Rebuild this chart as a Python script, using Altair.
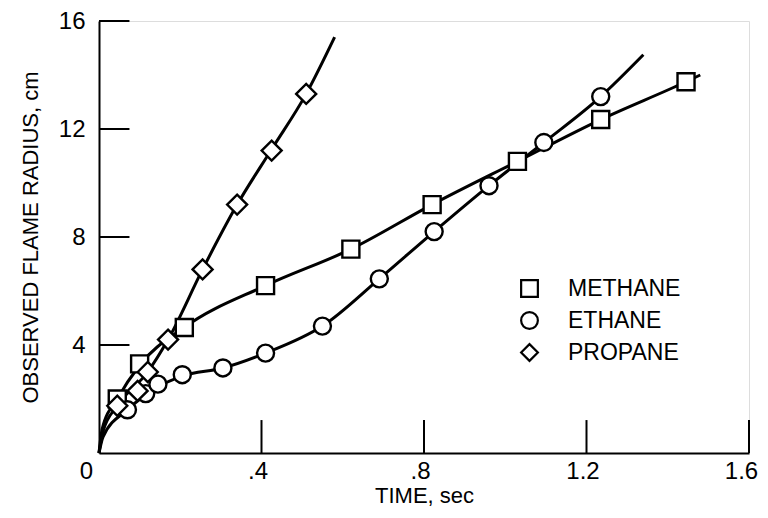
import altair as alt
import pandas as pd

# ---- data ----
series_names = ["METHANE", "ETHANE", "PROPANE"]

methane_t = [0.045, 0.10, 0.21, 0.41, 0.62, 0.82, 1.03, 1.235, 1.445]
methane_r = [2.0, 3.3, 4.65, 6.2, 7.55, 9.2, 10.8, 12.35, 13.75]

ethane_t = [0.07, 0.115, 0.145, 0.205, 0.305, 0.41, 0.55, 0.69, 0.825, 0.96, 1.095, 1.235]
ethane_r = [1.6, 2.2, 2.55, 2.9, 3.15, 3.7, 4.7, 6.45, 8.2, 9.9, 11.5, 13.2]

propane_t = [0.045, 0.095, 0.12, 0.17, 0.255, 0.34, 0.425, 0.51]
propane_r = [1.75, 2.3, 3.0, 4.2, 6.8, 9.2, 11.2, 13.3]

# faired curves drawn through the data
methane_curve_t = [0.0, 0.008, 0.045, 0.10, 0.21, 0.41, 0.62, 0.82, 1.03, 1.235, 1.445, 1.48]
methane_curve_r = [0.0, 0.9, 2.0, 3.25, 4.65, 6.2, 7.55, 9.2, 10.8, 12.35, 13.75, 14.0]

ethane_curve_t = [0.0, 0.01, 0.07, 0.145, 0.205, 0.305, 0.41, 0.55, 0.69, 0.825, 0.96, 1.095, 1.235, 1.34]
ethane_curve_r = [0.0, 0.6, 1.6, 2.45, 2.85, 3.15, 3.7, 4.7, 6.45, 8.2, 9.9, 11.5, 13.2, 14.75]

propane_curve_t = [0.0, 0.01, 0.045, 0.12, 0.17, 0.255, 0.34, 0.425, 0.51, 0.58]
propane_curve_r = [0.0, 0.8, 1.75, 3.0, 4.2, 6.8, 9.2, 11.25, 13.3, 15.4]

x_ticks = [0.4, 0.8, 1.2, 1.6]
y_ticks = [4, 8, 12, 16]
x_tick_labels = ["0", ".4", ".8", "1.2", "1.6"]

FONT = "Liberation Sans, Arial, sans-serif"

# ---- tables ----
pts = pd.concat([
    pd.DataFrame({"t": methane_t, "r": methane_r, "gas": "METHANE"}),
    pd.DataFrame({"t": ethane_t, "r": ethane_r, "gas": "ETHANE"}),
    pd.DataFrame({"t": propane_t, "r": propane_r, "gas": "PROPANE"}),
])
curves = pd.concat([
    pd.DataFrame({"t": methane_curve_t, "r": methane_curve_r, "gas": "METHANE", "i": range(len(methane_curve_t))}),
    pd.DataFrame({"t": ethane_curve_t, "r": ethane_curve_r, "gas": "ETHANE", "i": range(len(ethane_curve_t))}),
    pd.DataFrame({"t": propane_curve_t, "r": propane_curve_r, "gas": "PROPANE", "i": range(len(propane_curve_t))}),
])
xt = pd.DataFrame({"t": x_ticks, "r0": 0.0, "r1": 1.22})
yt = pd.DataFrame({"r": y_ticks, "t0": 0.0, "t1": 0.075})

x_values = [0] + x_ticks
label_map = "{" + ", ".join(f"'{v}': '{l}'" for v, l in zip(x_values, x_tick_labels)) + "}"
label_expr = f"{label_map}[toString(datum.value)]"

xscale = alt.Scale(domain=[0, 1.6], nice=False)
yscale = alt.Scale(domain=[0, 16], nice=False)

xaxis = alt.Axis(values=x_values, labelExpr=label_expr, title="TIME, sec",
                 grid=False, ticks=False, domainColor="black", domainWidth=2,
                 labelFont=FONT, labelFontSize=24, labelColor="black", labelPadding=6,
                 labelOffset={"condition": [{"test": "datum.value == 0", "value": -13},
                                            {"test": "datum.value == 1.6", "value": -8}],
                              "value": -4},
                 labelFlush=False, labelOverlap=False,
                 titleFont=FONT, titleFontSize=22, titleFontWeight="normal", titleColor="black",
                 titlePadding=2)
yaxis = alt.Axis(values=y_ticks, title="OBSERVED FLAME RADIUS, cm",
                 grid=False, ticks=False, domainColor="black", domainWidth=2,
                 labelFont=FONT, labelFontSize=24, labelColor="black", labelPadding=14,
                 labelFlush=False,
                 titleFont=FONT, titleFontSize=22, titleFontWeight="normal", titleColor="black",
                 titlePadding=16)

lines = alt.Chart(curves).mark_line(color="black", strokeWidth=3, interpolate="monotone").encode(
    x=alt.X("t:Q", scale=xscale, axis=xaxis),
    y=alt.Y("r:Q", scale=yscale, axis=yaxis),
    detail="gas:N",
    order="i:Q",
)

shape_scale = alt.Scale(domain=series_names, range=["square", "circle", "diamond"])
legend = alt.Legend(title=None, orient="none", legendX=419, legendY=256,
                    symbolStrokeWidth=2.2, symbolSize=280,
                    labelFont=FONT, labelFontSize=23, labelColor="black",
                    labelOffset=27, rowPadding=5)

points_sq_circ = alt.Chart(pts).transform_filter(
    alt.FieldOneOfPredicate(field="gas", oneOf=["METHANE", "ETHANE"])
).mark_point(filled=True, strokeWidth=2.4, opacity=1, size=290).encode(
    x="t:Q",
    y="r:Q",
    shape=alt.Shape("gas:N", scale=shape_scale, legend=legend),
    fill=alt.value("white"),
    stroke=alt.value("black"),
)
points_dia = alt.Chart(pts).transform_filter(
    alt.FieldEqualPredicate(field="gas", equal="PROPANE")
).mark_point(filled=True, strokeWidth=2.4, opacity=1, size=400).encode(
    x="t:Q",
    y="r:Q",
    shape=alt.Shape("gas:N", scale=shape_scale, legend=legend),
    fill=alt.value("white"),
    stroke=alt.value("black"),
)

xtick_rules = alt.Chart(xt).mark_rule(color="black", strokeWidth=2).encode(
    x="t:Q", y="r0:Q", y2="r1:Q")
ytick_rules = alt.Chart(yt).mark_rule(color="black", strokeWidth=2).encode(
    y="r:Q", x="t0:Q", x2="t1:Q")

chart = alt.layer(xtick_rules, ytick_rules, lines, points_sq_circ, points_dia).properties(
    width=650, height=432,
    autosize=alt.AutoSizeParams(type="none"),
    padding={"left": 91, "top": 13, "right": 11, "bottom": 57},
).configure_view(stroke=None).configure(background="white")

chart.save("out.html", embed_options={"renderer": "svg", "actions": False})
